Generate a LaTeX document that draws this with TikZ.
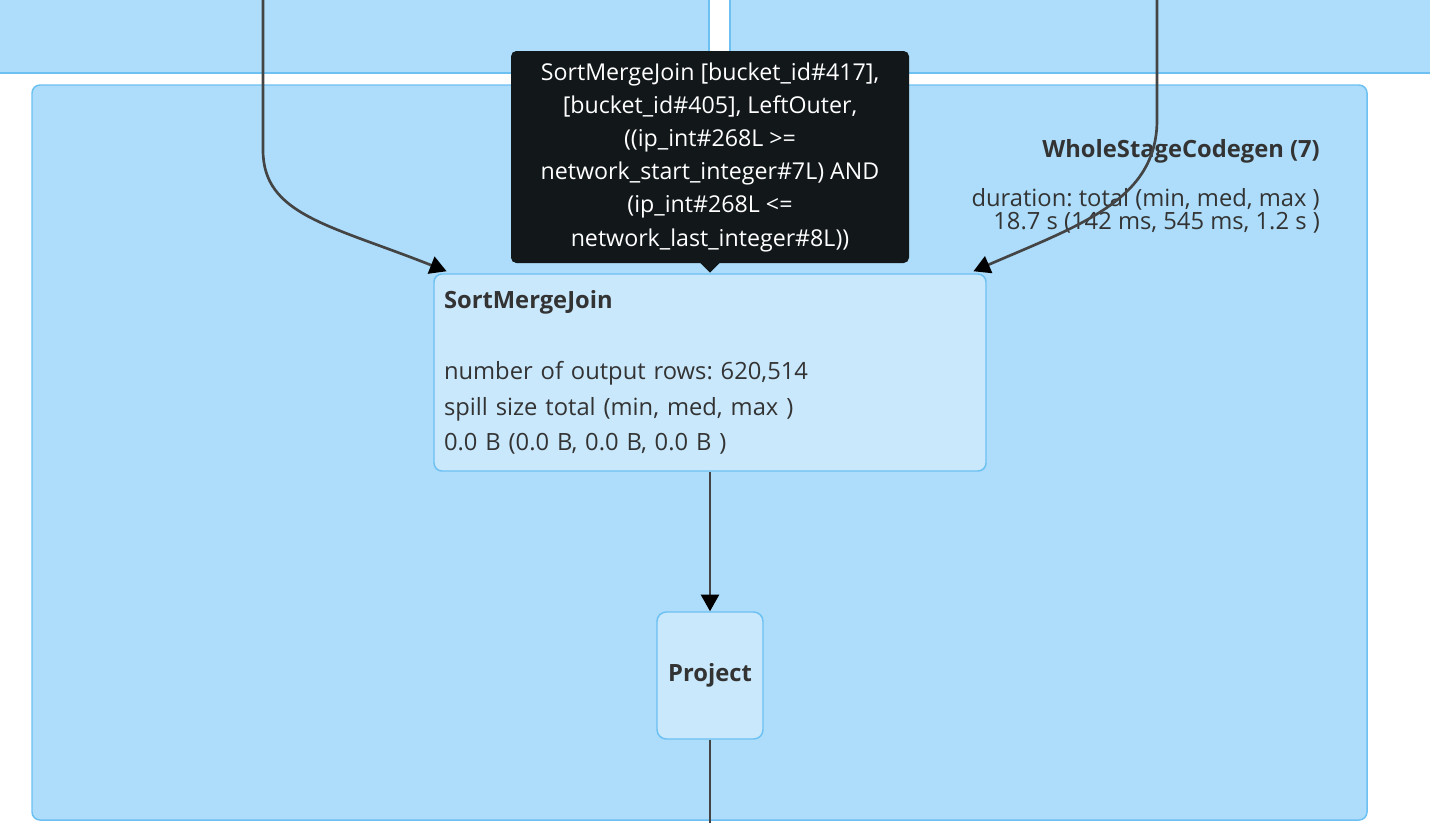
\documentclass[tikz,border=0pt]{standalone}
\usepackage{fontspec}
\setmainfont{Open Sans}
\usetikzlibrary{arrows.meta,calc}
\frenchspacing

\definecolor{stagefill}{HTML}{ADDDFB}
\definecolor{stageline}{HTML}{6CC0F2}
\definecolor{opfill}{HTML}{C9E8FC}
\definecolor{labelink}{HTML}{333333}
\definecolor{flowline}{HTML}{444444}
\definecolor{tipfill}{HTML}{12171A}

\newcommand{\metricfont}{\fontsize{17.8}{26.6}\selectfont}

\tikzset{
  stage/.style={draw=stageline, fill=stagefill, line width=1.1pt},
  opbox/.style={draw=stageline, fill=opfill, line width=1.1pt, text=labelink},
  stagelabel/.style={text=labelink, inner sep=0pt, font=\metricfont},
  flow/.style={draw=flowline, line width=2pt, -{Triangle[length=12.5pt,width=13.5pt,color=black]}},
  tipbox/.style={fill=tipfill, text=white, rounded corners=4pt, align=center}
}

\begin{document}
\begin{tikzpicture}[x=0.75pt,y=-0.75pt]
	%%%%% START %%%%%
	\useasboundingbox (0,0) rectangle (1430,822);
	\clip (0,0) rectangle (1430,822);
	\fill[white] (0,0) rectangle (1430,822);
	
	% upper stages
	\draw[stage] (-10,-10) rectangle (709,73);
	\draw[stage] (730,-10) rectangle (1440,73);
	
	% stage 7
	\draw[stage, rounded corners=6pt] (32,85) rectangle (1367,820);
	\node[stagelabel, anchor=base east, font=\metricfont\bfseries] (stagetitle) at (1320,157) {WholeStageCodegen (7)};
	\node[stagelabel, anchor=base east] (stagedur) at (1320,206) {duration: total (min, med, max )};
	\node[stagelabel, anchor=base east] (stagetime) at (1320,229) {18.7 s (142 ms, 545 ms, 1.2 s )};
	
	% operators
	\node[opbox, rounded corners=6pt, minimum width=414pt, minimum height=147.75pt,
	      text width=399pt, align=left, font=\metricfont] (smj) at (710,372.5)
	      {\textbf{SortMergeJoin}\\[26.6pt]
	       number of output rows: 620,514\\
	       spill size total (min, med, max )\\
	       0.0 B (0.0 B, 0.0 B, 0.0 B )};
	\node[opbox, rounded corners=7pt, minimum width=79.5pt, minimum height=95.25pt,
	      font=\metricfont\bfseries] (project) at (710,675.5) {Project};
	
	% edges
	\coordinate (leftin) at (263,-5);
	\coordinate (rightin) at (1157,-5);
	\coordinate (projout) at (710,830);
	\draw[flow] (leftin) -- (263,150) .. controls (263,215) and (330,225) .. ([xshift=10pt,yshift=1.5pt]smj.north west);
	\draw[flow] (rightin) -- (1157,120) .. controls (1157,200) and (1080,225) .. ([xshift=-10pt,yshift=1.5pt]smj.north east);
	\draw[flow] (smj) -- (project);
	\draw[flow, -] (project) -- (projout);
	
	% tooltip
	\node[tipbox, minimum width=298.5pt, minimum height=159pt,
	      font=\fontsize{17.4}{24.9}\selectfont] (tip) at (710,157)
	      {SortMergeJoin {[}bucket\_id\#417{]},\\
	       {[}bucket\_id\#405{]}, LeftOuter,\\
	       ((ip\_int\#268L >=\\
	       network\_start\_integer\#7L) AND\\
	       (ip\_int\#268L <=\\
	       network\_last\_integer\#8L))};
	\fill[tipfill] ([xshift=-7.5pt,yshift=0.5pt]tip.south) -- ([yshift=-7pt]tip.south) -- ([xshift=7.5pt,yshift=0.5pt]tip.south) -- cycle;
	
	%%%%% END %%%%%
\end{tikzpicture}
\end{document}
